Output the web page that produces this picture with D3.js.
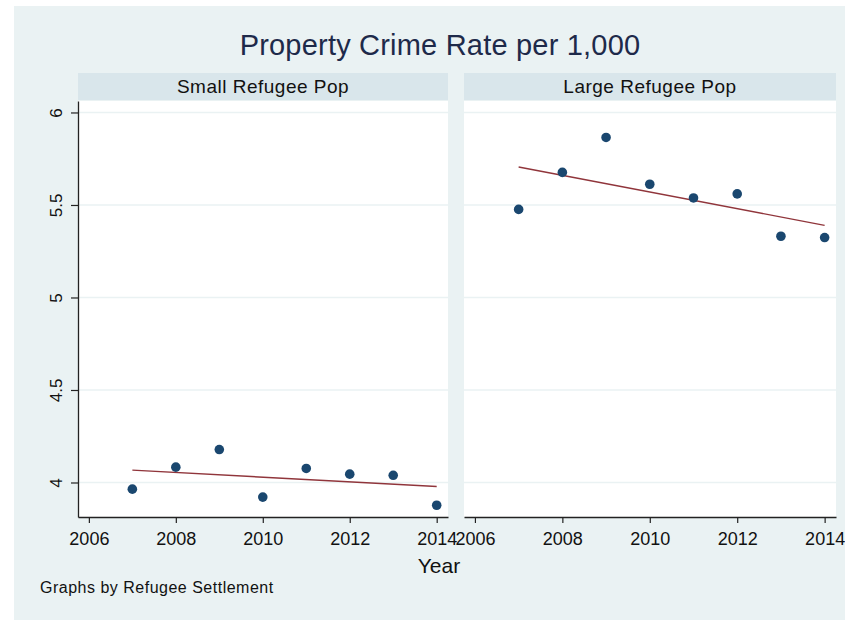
<!DOCTYPE html>
<html>
<head>
<meta charset="utf-8">
<script src="https://cdn.jsdelivr.net/npm/d3@7"></script>
<style>
  html, body { margin: 0; padding: 0; background: #ffffff; }
  svg { display: block; font-family: "Liberation Sans", Arial, sans-serif; }
</style>
</head>
<body>
<svg id="chart" width="845" height="620"></svg>
<script>
// ---------------- data ----------------
const years = [2007, 2008, 2009, 2010, 2011, 2012, 2013, 2014];
const panels = ["Small Refugee Pop", "Large Refugee Pop"];
const smallRate = [3.964, 4.083, 4.178, 3.921, 4.076, 4.045, 4.039, 3.877];
const largeRate = [5.476, 5.676, 5.865, 5.612, 5.538, 5.560, 5.331, 5.324];
const fitYears = [2007, 2014];
const smallFit = [4.067, 3.978];
const largeFit = [5.705, 5.390];
const xTicks = [2006, 2008, 2010, 2012, 2014];
const yTicks = [4, 4.5, 5, 5.5, 6];
const yTickLabels = ["4", "4.5", "5", "5.5", "6"];
const titleText = "Property Crime Rate per 1,000";
const xTitle = "Year";
const note = "Graphs by Refugee Settlement";

// ---------------- styles ----------------
const bgColor = "#eaf2f3";
const stripColor = "#d9e6eb";
const gridColor = "#eaf2f3";
const markerColor = "#1a476f";
const fitColor = "#90353b";
const textColor = "#111111";

const svg = d3.select("#chart");
svg.append("rect").attr("x", 14).attr("y", 6).attr("width", 831).attr("height", 614).attr("fill", bgColor);

const plotTop = 101, plotBottom = 517;
const y = d3.scaleLinear().domain([3.8135, 6.062]).range([plotBottom, plotTop]);

const panelDefs = [
  { name: panels[0], x0: 78, x1: 448, values: smallRate, fit: smallFit, yAxis: true },
  { name: panels[1], x0: 464, x1: 836, values: largeRate, fit: largeFit, yAxis: false }
];

svg.append("text")
  .attr("x", 440).attr("y", 55)
  .attr("text-anchor", "middle")
  .attr("font-size", 29)
  .attr("letter-spacing", 0.2)
  .attr("fill", "#1e2a4a")
  .text(titleText);

panelDefs.forEach(p => {
  const x = d3.scaleLinear().domain([2005.75, 2014.26]).range([p.x0, p.x1]);
  // strip
  svg.append("rect").attr("x", p.x0).attr("y", 73).attr("width", p.x1 - p.x0).attr("height", 27).attr("fill", stripColor);
  svg.append("text")
    .attr("x", (p.x0 + p.x1) / 2).attr("y", 92.5)
    .attr("text-anchor", "middle").attr("font-size", 19).attr("letter-spacing", 0.5).attr("fill", textColor)
    .text(p.name);
  // plot region
  svg.append("rect").attr("x", p.x0).attr("y", plotTop).attr("width", p.x1 - p.x0).attr("height", plotBottom - plotTop).attr("fill", "#ffffff");
  // gridlines
  svg.append("g").selectAll("line").data(yTicks).join("line")
    .attr("x1", p.x0).attr("x2", p.x1)
    .attr("y1", d => y(d)).attr("y2", d => y(d))
    .attr("stroke", gridColor).attr("stroke-width", 1.5);
  // fit line
  svg.append("path")
    .datum(fitYears.map((yr, i) => [yr, p.fit[i]]))
    .attr("d", d3.line().x(d => x(d[0])).y(d => y(d[1])))
    .attr("fill", "none").attr("stroke", fitColor).attr("stroke-width", 1.4);
  // points
  svg.append("g").selectAll("circle").data(years.map((yr, i) => [yr, p.values[i]])).join("circle")
    .attr("cx", d => x(d[0])).attr("cy", d => y(d[1])).attr("r", 4.8)
    .attr("fill", markerColor);
  // x axis
  const gx = svg.append("g").attr("transform", `translate(0,${plotBottom})`)
    .call(d3.axisBottom(x).tickValues(xTicks).tickFormat(d3.format("d")).tickSize(6).tickPadding(9).tickSizeOuter(0));
  gx.select(".domain").attr("stroke", "#222").attr("stroke-width", 1.3);
  gx.selectAll(".tick line").attr("stroke", "#222").attr("stroke-width", 1.2);
  gx.selectAll(".tick text").attr("font-size", 18).attr("fill", textColor).attr("font-family", "Liberation Sans, Arial, sans-serif");
  // y axis
  if (p.yAxis) {
    const gy = svg.append("g").attr("transform", `translate(${p.x0},0)`)
      .call(d3.axisLeft(y).tickValues(yTicks).tickFormat((d, i) => yTickLabels[i]).tickSize(7).tickSizeOuter(0));
    gy.select(".domain").attr("stroke", "#222").attr("stroke-width", 1.3);
    gy.selectAll(".tick line").attr("stroke", "#222").attr("stroke-width", 1.2);
    gy.selectAll(".tick text")
      .attr("x", null).attr("dy", null)
      .attr("transform", "translate(-16,0) rotate(-90)")
      .attr("text-anchor", "middle")
      .attr("font-size", 17).attr("fill", textColor)
      .attr("font-family", "Liberation Sans, Arial, sans-serif");
  }
});

svg.append("text")
  .attr("x", 439).attr("y", 573)
  .attr("text-anchor", "middle").attr("font-size", 21).attr("fill", textColor)
  .text(xTitle);

svg.append("text")
  .attr("x", 40).attr("y", 593)
  .attr("font-size", 16).attr("letter-spacing", 0.5).attr("fill", textColor)
  .text(note);
</script>
</body>
</html>
